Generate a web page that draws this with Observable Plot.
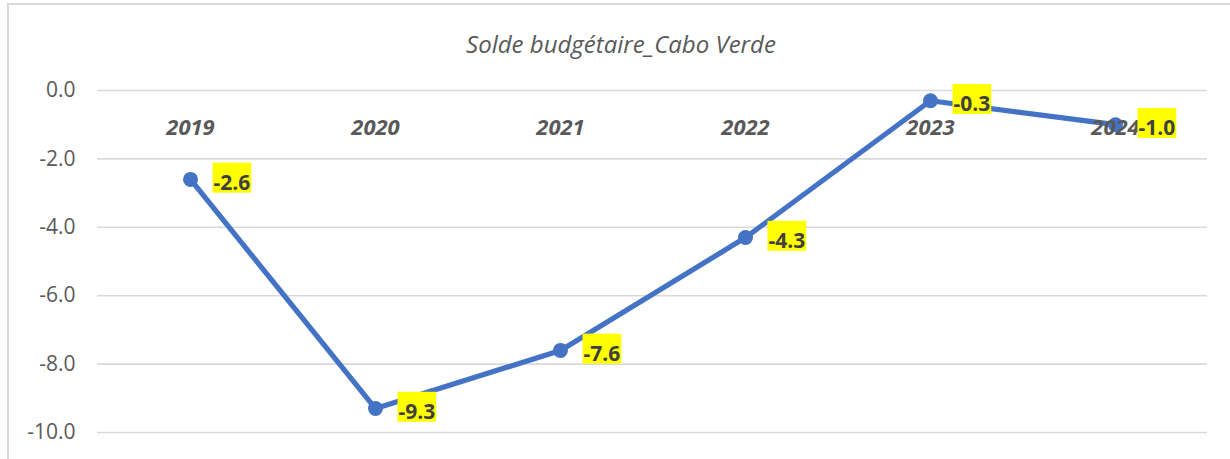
<!DOCTYPE html>
<html>
<head>
<meta charset="utf-8">
<script src="https://cdn.jsdelivr.net/npm/d3@7"></script>
<script src="https://cdn.jsdelivr.net/npm/@observablehq/plot@0.6"></script>
<style>
  html, body { margin: 0; padding: 0; background: #fff; }
  #wrap { position: relative; width: 1230px; height: 459px; overflow: hidden; font-family: "Open Sans", sans-serif; }
  #frame { position: absolute; left: 7px; top: 3px; width: 1400px; height: 600px; border-left: 2px solid #d9d9d9; border-top: 2px solid #d9d9d9; box-sizing: border-box; }
  #title { position: absolute; left: 0; width: 1242px; top: 27px; text-align: center; font-style: italic; font-size: 24px; color: #595959; }
  #chart { position: absolute; left: 0; top: 0; }
</style>
</head>
<body>
<div id="wrap">
  <div id="frame"></div>
  <div id="chart"></div>
  <div id="title">Solde budgétaire_Cabo Verde</div>
</div>
<script>
const years = ["2019", "2020", "2021", "2022", "2023", "2024"];
const balance = [-2.6, -9.3, -7.6, -4.3, -0.3, -1.0];
const yTicks = [0, -2, -4, -6, -8, -10];

const data = years.map((y, i) => ({year: y, value: balance[i]}));

const plot = Plot.plot({
  width: 1230,
  height: 459,
  marginLeft: 97,
  marginRight: 23,
  marginTop: 90,
  marginBottom: 27,
  style: {background: "transparent", fontFamily: "Open Sans, sans-serif"},
  x: {type: "point", domain: years, padding: 0.5, axis: null},
  y: {domain: [-10, 0]},
  marks: [
    Plot.gridY(yTicks, {stroke: "#d9d9d9", strokeOpacity: 1, strokeWidth: 1.6}),
    Plot.axisY(yTicks, {tickSize: 0, tickPadding: 22, fontSize: 21, fill: "#595959", tickFormat: d => d === 0 ? "0.0" : d.toFixed(1), label: null}),
    Plot.line(data, {x: "year", y: "value", stroke: "#4472C4", strokeWidth: 5.2, strokeLinejoin: "round"}),
    Plot.dot(data, {x: "year", y: "value", r: 7.5, fill: "#4472C4"}),
    Plot.text(years, {x: d => d, frameAnchor: "top", lineAnchor: "middle", dy: 37, fontSize: 22, fontWeight: "bold", fontStyle: "italic", fill: "#595959"}),
    Plot.text(data, {x: "year", y: "value", text: d => d.value.toFixed(1), textAnchor: "start", dx: 23, dy: 4, fontSize: 21, fontWeight: "bold", fill: "#404040"})
  ]
});
document.getElementById("chart").appendChild(plot);

// yellow highlight boxes behind value labels
const groups = plot.querySelectorAll('g[aria-label="text"]');
const labG = groups[groups.length - 1];
labG.querySelectorAll("text").forEach(t => {
  const b = t.getBBox();
  const cy = b.y + b.height / 2 - 4.5;
  const r = document.createElementNS("http://www.w3.org/2000/svg", "rect");
  r.setAttribute("x", b.x - 1);
  r.setAttribute("y", cy - 15);
  r.setAttribute("width", b.width + 2);
  r.setAttribute("height", 30);
  r.setAttribute("fill", "#ffff00");
  const tr = t.getAttribute("transform");
  if (tr) r.setAttribute("transform", tr);
  labG.insertBefore(r, t);
});
</script>
</body>
</html>
